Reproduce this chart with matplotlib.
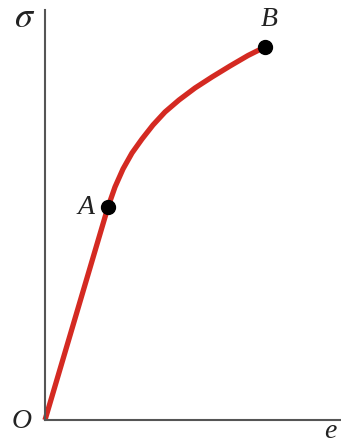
import matplotlib.pyplot as plt

# stress-strain curve: linear up to A, then hardening up to B
strain = [0, 63, 70, 78, 87, 97, 108, 120, 134, 150, 167, 185, 203, 220]
stress = [0, 213, 233, 251, 267, 281, 295, 308, 320, 332, 343, 354, 364.5, 373]

point_names = ['A', 'B']
point_strain = [63, 220]
point_stress = [213, 373]

W, H = 341, 447
fig = plt.figure(figsize=(W / 100, H / 100), dpi=100)
ax = fig.add_axes([45 / W, 27 / H, 296 / W, 410 / H])
ax.set_xlim(0, 296)
ax.set_ylim(0, 410)

for s in ['top', 'right']:
    ax.spines[s].set_visible(False)
for s in ['left', 'bottom']:
    ax.spines[s].set_color('#555555')
    ax.spines[s].set_linewidth(1.5)
ax.set_xticks([])
ax.set_yticks([])

ax.plot(strain, stress, color='#d42a22', lw=3.8, solid_capstyle='butt',
        solid_joinstyle='round', clip_on=False, zorder=2)
ax.plot(point_strain, point_stress, 'o', color='black', ms=10, clip_on=False, zorder=3)

font = dict(family='Liberation Serif', style='italic', size=20, color='#222222')
ax.annotate(point_names[0], (point_strain[0], point_stress[0]), xytext=(-16, 0),
            textcoords='offset points', ha='center', va='center', **font)
ax.annotate(point_names[1], (point_strain[1], point_stress[1]), xytext=(3, 20),
            textcoords='offset points', ha='center', va='center', **font)

fig.text(22 / W, 1 - 421 / H, 'O', ha='center', va='center', **font)
fig.text(25 / W, 1 - 17 / H, r'$\sigma$', ha='center', va='center',
         fontsize=26, color='#222222', math_fontfamily='stix')
fig.text(337 / W, 1 - 431 / H, 'e', ha='right', va='center', **font)

fig.savefig('out.png', dpi=100)
